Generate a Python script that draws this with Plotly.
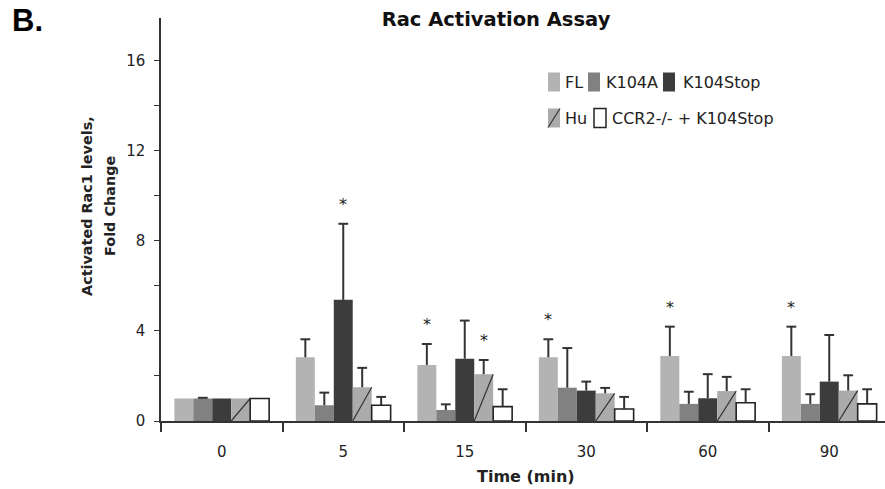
import plotly.graph_objects as go

# ---- data ----
time_labels = ["0", "5", "15", "30", "60", "90"]
series_names = ["FL", "K104A", "K104Stop", "Hu", "CCR2-/- + K104Stop"]

fl_vals = [1.0, 2.83, 2.49, 2.83, 2.89, 2.89]
fl_err_top = [None, 3.63, 3.42, 3.63, 4.19, 4.19]

k104a_vals = [1.0, 0.70, 0.49, 1.48, 0.76, 0.76]
k104a_err_top = [1.03, 1.26, 0.74, 3.24, 1.30, 1.19]

k104stop_vals = [1.0, 5.38, 2.77, 1.35, 1.01, 1.75]
k104stop_err_top = [None, 8.76, 4.46, 1.75, 2.08, 3.82]

hu_vals = [1.0, 1.50, 2.08, 1.23, 1.33, 1.35]
hu_err_top = [None, 2.36, 2.71, 1.47, 1.96, 2.03]

ccr2_vals = [1.0, 0.70, 0.64, 0.53, 0.81, 0.76]
ccr2_err_top = [None, 1.07, 1.41, 1.07, 1.41, 1.41]

# significance markers: (time index, series name)
significant = [(1, "K104Stop"), (2, "FL"), (2, "Hu"), (3, "FL"), (4, "FL"), (5, "FL")]

y_tick_vals = [0, 4, 8, 12, 16]

# ---- styling ----
colors = ["#b3b3b3", "#818181", "#3c3c3c", "#ababab", "#ffffff"]
vals = [fl_vals, k104a_vals, k104stop_vals, hu_vals, ccr2_vals]
errs = [fl_err_top, k104a_err_top, k104stop_err_top, hu_err_top, ccr2_err_top]

n = len(series_names)
group_w = 0.78
bw = group_w / n
xs = list(range(len(time_labels)))
offsets = [-group_w / 2 + i * bw for i in range(n)]

FONT = "DejaVu Sans"
W, H = 885, 489
ML, MR, MT, MB = 161, 0, 18, 68
PW, PH = W - ML - MR, H - MT - MB


def px_x(p):
    return (p - ML) / PW


def px_y(p):
    return (H - MB - p) / PH


fig = go.Figure()

for i, name in enumerate(series_names):
    is_ccr = i == 4
    is_hu = i == 3
    fig.add_trace(go.Bar(
        x=xs, y=vals[i], name=name,
        width=bw, offset=offsets[i],
        marker=dict(color=colors[i],
                    line=dict(color="#222" if is_ccr else colors[i], width=1.6 if is_ccr else 0)),
        showlegend=False,
    ))
    if is_hu:
        # diagonal inside each Hu bar
        lx, ly = [], []
        for x, v in zip(xs, vals[i]):
            lx += [x + offsets[i], x + offsets[i] + bw, None]
            ly += [0, v, None]
        fig.add_trace(go.Scatter(x=lx, y=ly, mode="lines",
                                 line=dict(color="#333", width=1.2),
                                 showlegend=False, hoverinfo="skip"))

# upper error bars (stem from bar top + cap), no cap at the bar top
for i in range(n):
    ex, ey, cx, cy = [], [], [], []
    for x, v, e in zip(xs, vals[i], errs[i]):
        if e is None:
            continue
        xc = x + offsets[i] + bw / 2
        ex += [xc, xc, None]
        ey += [v, e, None]
        cx.append(xc)
        cy.append(e)
    fig.add_trace(go.Scatter(x=ex, y=ey, mode="lines", line=dict(color="#333", width=2),
                             showlegend=False, hoverinfo="skip"))
    fig.add_trace(go.Scatter(x=cx, y=cy, mode="markers",
                             marker=dict(symbol="line-ew", size=7,
                                         line=dict(color="#333", width=2)),
                             showlegend=False, hoverinfo="skip"))

annotations = []
for ti, sname in significant:
    si = series_names.index(sname)
    annotations.append(dict(
        x=xs[ti] + offsets[si] + bw / 2, y=errs[si][ti], xref="x", yref="y",
        text="*", showarrow=False, yanchor="bottom", yshift=8,
        font=dict(family=FONT, size=16, color="#222")))

# ---- custom compact legend (two rows) ----
legend_rows = [
    # (swatch left px, text left px, row center px)
    (548, 563, 82), (588, 604, 82), (663, 681, 82),
    (548, 563, 118), (594, 610, 118),
]
shapes = []
for i, (sx, tx, cy) in enumerate(legend_rows):
    is_ccr = i == 4
    sw = 12
    sh = 19
    shapes.append(dict(type="rect", xref="paper", yref="paper",
                       x0=px_x(sx), x1=px_x(sx + sw), y0=px_y(cy + sh / 2), y1=px_y(cy - sh / 2),
                       fillcolor=colors[i],
                       line=dict(color="#222" if is_ccr else colors[i], width=1.5 if is_ccr else 0)))
    if i == 3:
        shapes.append(dict(type="line", xref="paper", yref="paper",
                           x0=px_x(sx), x1=px_x(sx + sw), y0=px_y(cy + sh / 2), y1=px_y(cy - sh / 2),
                           line=dict(color="#333", width=1.2)))
    annotations.append(dict(x=px_x(tx), y=px_y(cy), xref="paper", yref="paper",
                            text=series_names[i], showarrow=False,
                            xanchor="left", yanchor="middle",
                            font=dict(family=FONT, size=16, color="#222")))

# panel letter
annotations.append(dict(x=px_x(10), y=px_y(21), xref="paper", yref="paper", text="<b>B.</b>",
                        showarrow=False, xanchor="left", yanchor="middle",
                        font=dict(family="Liberation Sans", size=31, color="#000")))
# y title (two lines)
annotations.append(dict(x=px_x(87), y=px_y(206), xref="paper", yref="paper",
                        text="<b>Activated Rac1 levels,</b>", textangle=-90,
                        showarrow=False, xanchor="center", yanchor="middle",
                        font=dict(family=FONT, size=14.4, color="#222")))
annotations.append(dict(x=px_x(110), y=px_y(206), xref="paper", yref="paper",
                        text="<b>Fold Change</b>", textangle=-90,
                        showarrow=False, xanchor="center", yanchor="middle",
                        font=dict(family=FONT, size=14.4, color="#222")))
# x title
annotations.append(dict(x=px_x(526), y=px_y(476), xref="paper", yref="paper",
                        text="<b>Time (min)</b>", showarrow=False,
                        xanchor="center", yanchor="middle",
                        font=dict(family=FONT, size=16, color="#222")))

fig.update_layout(
    width=W, height=H,
    margin=dict(l=ML, r=MR, t=MT, b=MB),
    paper_bgcolor="white", plot_bgcolor="white",
    barmode="overlay",
    showlegend=False,
    title=dict(text="<b>Rac Activation Assay</b>", x=496 / W, y=1 - 19 / H,
               xanchor="center", yanchor="middle",
               font=dict(family=FONT, size=19.5, color="#111")),
    font=dict(family=FONT, color="#222"),
    annotations=annotations,
    shapes=shapes,
    xaxis=dict(range=[-0.5, -0.5 + PW / 121.5], tickmode="array", tickvals=xs, ticktext=time_labels,
               ticks="", showgrid=False, zeroline=False,
               showline=True, linecolor="#333", linewidth=1.5,
               tickfont=dict(family=FONT, size=15, color="#222"),
               ticklabelstandoff=16,
               minor=dict(tickmode="array", tickvals=[x - 0.5 for x in xs] + [xs[-1] + 0.5],
                          ticks="outside", ticklen=9, tickwidth=1.5, tickcolor="#333",
                          showgrid=False)),
    yaxis=dict(range=[0, 17.9], tickmode="array", tickvals=y_tick_vals,
               ticks="outside", ticklen=5, tickwidth=1.2, tickcolor="#333",
               showgrid=False, zeroline=False,
               showline=True, linecolor="#333", linewidth=1.5,
               tickfont=dict(family=FONT, size=15, color="#222"),
               ticklabelstandoff=6,
               minor=dict(dtick=2, tick0=0, ticks="outside", ticklen=5, tickwidth=1.2,
                          tickcolor="#333", showgrid=False)),
)

fig.write_html("out.html", config={"displayModeBar": False},
               post_script="document.body.style.margin='0px';")
